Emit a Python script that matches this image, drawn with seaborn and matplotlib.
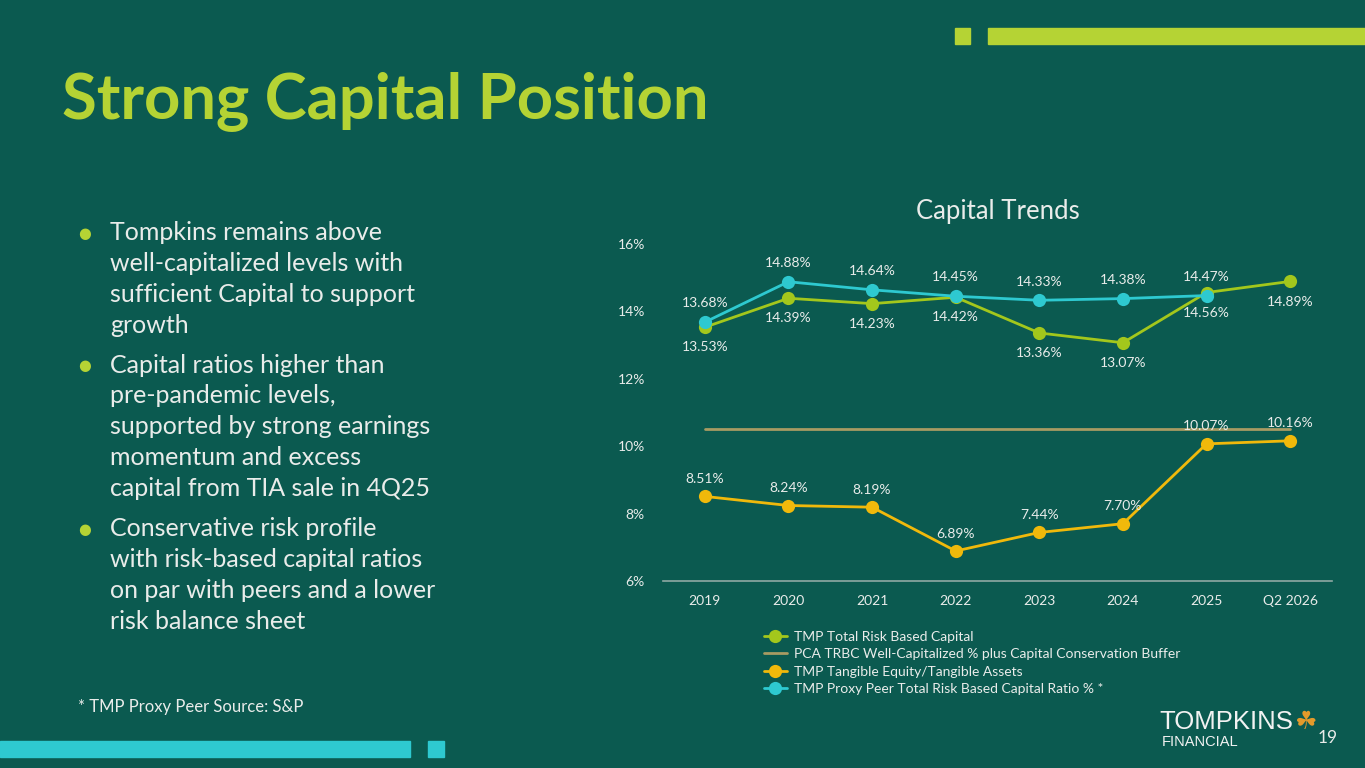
import numpy as np
import pandas as pd
import matplotlib
matplotlib.use("Agg")
import matplotlib.pyplot as plt
import seaborn as sns
from matplotlib.patches import Rectangle

years = ["2019", "2020", "2021", "2022", "2023", "2024", "2025", "Q2 2026"]
trbc = [13.53, 14.39, 14.23, 14.42, 13.36, 13.07, 14.56, 14.89]
pca_buffer = [10.5, 10.5, 10.5, 10.5, 10.5, 10.5, 10.5, 10.5]
te_ta = [8.51, 8.24, 8.19, 6.89, 7.44, 7.70, 10.07, 10.16]
peer = [13.68, 14.88, 14.64, 14.45, 14.33, 14.38, 14.47, np.nan]

names = ["TMP Total Risk Based Capital",
         "PCA TRBC Well-Capitalized % plus Capital Conservation Buffer",
         "TMP Tangible Equity/Tangible Assets",
         "TMP Proxy Peer Total Risk Based Capital Ratio % *"]

bullets = [
    ["Tompkins remains above", "well-capitalized levels with",
     "sufficient Capital to support", "growth"],
    ["Capital ratios higher than", "pre-pandemic levels,",
     "supported by strong earnings", "momentum and excess",
     "capital from TIA sale in 4Q25"],
    ["Conservative risk profile", "with risk-based capital ratios",
     "on par with peers and a lower", "risk balance sheet"],
]

BG = "#0b5a50"
LIME = "#b5d334"
CYAN = "#2ec9d0"
GREEN = "#a3c71c"
GOLD = "#f0b90b"
TAN = "#a89b62"
TXT = "#e9ecea"

sns.set_style("dark")
plt.rcParams["font.family"] = ["Lato", "DejaVu Sans"]

fig = plt.figure(figsize=(13.65, 7.68), dpi=100, facecolor=BG)
W, H = 1365, 768

def fx(px):
    return px / W

def fy(py):
    return 1 - py / H

# decorative bars
for x0, y0, w, h, c in [(955, 28, 15, 16, LIME), (988, 28, 377, 16, LIME),
                        (0, 741, 410, 16, CYAN), (428, 741, 16, 16, CYAN)]:
    fig.patches.append(Rectangle((fx(x0), fy(y0 + h)), w / W, h / H,
                                 transform=fig.transFigure, color=c, zorder=0))

fig.text(fx(62), fy(118), "Strong Capital Position", color=LIME,
         fontsize=45.5, fontweight="bold", va="baseline", ha="left")

# bullets
starts = [233, 365, 529]
for lines, y0 in zip(bullets, starts):
    fig.text(fx(85), fy(y0), "\u25CF", color=LIME, fontsize=10.5, va="center", ha="center",
             family=["DejaVu Sans"])
    for i, line in enumerate(lines):
        fig.text(fx(110), fy(y0 + i * 30.8), line, color=TXT, fontsize=18,
                 va="center", ha="left")

fig.text(fx(78), fy(707), "* TMP Proxy Peer Source: S&P", color=TXT,
         fontsize=12, va="center", ha="left")

# logo + page number
fig.text(fx(1159), fy(722), "TOMPKINS", color="#f2f2f2", fontsize=18.5,
         va="center", ha="left", family=["Liberation Sans", "DejaVu Sans"])
fig.text(fx(1162), fy(742), "FINANCIAL", color="#f2f2f2", fontsize=10.5,
         va="center", ha="left", family=["Liberation Sans", "DejaVu Sans"])
fig.text(fx(1305), fy(722), "\u2618", color="#e39a2b", fontsize=18,
         va="center", ha="center", family=["DejaVu Sans"])
fig.text(fx(1328), fy(738), "19", color=TXT, fontsize=12.5, va="center", ha="center")

# chart
ax = fig.add_axes([fx(663), fy(581), (1332 - 663) / W, (581 - 244) / H])
ax.set_facecolor("none")

df = pd.DataFrame({"year": years, names[0]: trbc, names[1]: pca_buffer,
                   names[2]: te_ta, names[3]: peer})

sns.lineplot(data=df, x="year", y=names[0], ax=ax, color=GREEN, marker="o",
             markersize=9.5, linewidth=2, markeredgewidth=0, label=names[0], sort=False)
sns.lineplot(data=df, x="year", y=names[1], ax=ax, color=TAN,
             linewidth=2, label=names[1], sort=False)
sns.lineplot(data=df, x="year", y=names[2], ax=ax, color=GOLD, marker="o",
             markersize=9.5, linewidth=2, markeredgewidth=0, label=names[2], sort=False)
sns.lineplot(data=df.dropna(), x="year", y=names[3], ax=ax, color=CYAN, marker="o",
             markersize=9.5, linewidth=2, markeredgewidth=0, label=names[3], sort=False)

xs = np.arange(len(years))
for x, v in zip(xs, trbc):
    ax.annotate(f"{v:.2f}%", (x, v), xytext=(0, -14.5), textcoords="offset points",
                ha="center", va="center", color=TXT, fontsize=10)
for x, v in zip(xs, te_ta):
    ax.annotate(f"{v:.2f}%", (x, v), xytext=(0, 12.5), textcoords="offset points",
                ha="center", va="center", color=TXT, fontsize=10)
for x, v in zip(xs, peer):
    if not np.isnan(v):
        ax.annotate(f"{v:.2f}%", (x, v), xytext=(0, 13.5), textcoords="offset points",
                    ha="center", va="center", color=TXT, fontsize=10)

ax.set_xlim(-0.5, len(years) - 0.5)
ax.set_ylim(6, 16)
ax.set_yticks([6, 8, 10, 12, 14, 16])
ax.set_yticklabels([f"{t}%" for t in [6, 8, 10, 12, 14, 16]])
ax.set_xlabel("")
ax.set_ylabel("")
ax.grid(False)
for s in ["top", "right", "left"]:
    ax.spines[s].set_visible(False)
ax.spines["bottom"].set_visible(True)
ax.spines["bottom"].set_color("#8fa9a3")
ax.spines["bottom"].set_linewidth(1.2)
ax.tick_params(axis="both", colors=TXT, labelsize=10, length=0)
ax.tick_params(axis="y", pad=13)
ax.tick_params(axis="x", pad=10)
ax.set_title("Capital Trends", color=TXT, fontsize=18.5, pad=18)

handles, labels = ax.get_legend_handles_labels()
ax.get_legend().remove()
leg = fig.legend(handles, labels, loc="upper left", bbox_to_anchor=(fx(758), fy(625)),
                 frameon=False, fontsize=10, handlelength=1.7, handletextpad=0.5,
                 labelspacing=0.4, borderaxespad=0)
for t in leg.get_texts():
    t.set_color(TXT)

fig.savefig("out.png", dpi=100, facecolor=BG)
